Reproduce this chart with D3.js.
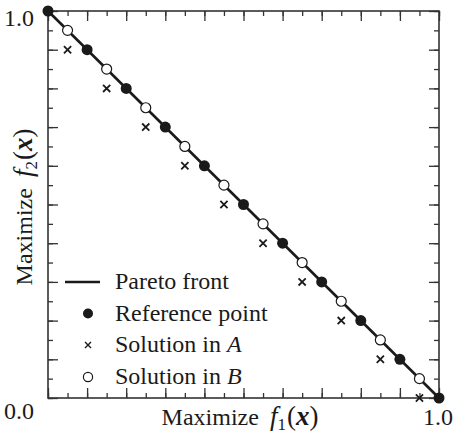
<!DOCTYPE html>
<html>
<head>
<meta charset="utf-8">
<script src="https://cdn.jsdelivr.net/npm/d3@7"></script>
<style>
  html, body { margin: 0; padding: 0; background: #fff; }
  svg { display: block; font-family: "Liberation Serif", "DejaVu Serif", serif; }
</style>
</head>
<body>
<svg id="chart" width="454" height="434"></svg>
<script>
// pareto front end points
const paretoF1 = [0, 1];
const paretoF2 = [1, 0];

// reference points (filled)
const refF1 = [0.0, 0.1, 0.2, 0.3, 0.4, 0.5, 0.6, 0.7, 0.8, 0.9, 1.0];
const refF2 = [1.0, 0.9, 0.8, 0.7, 0.6, 0.5, 0.4, 0.3, 0.2, 0.1, 0.0];

// solution set A (crosses)
const solAF1 = [0.05, 0.15, 0.25, 0.35, 0.45, 0.55, 0.65, 0.75, 0.85, 0.95];
const solAF2 = [0.90, 0.80, 0.70, 0.60, 0.50, 0.40, 0.30, 0.20, 0.10, 0.00];

// solution set B (open circles)
const solBF1 = [0.05, 0.15, 0.25, 0.35, 0.45, 0.55, 0.65, 0.75, 0.85, 0.95];
const solBF2 = [0.95, 0.85, 0.75, 0.65, 0.55, 0.45, 0.35, 0.25, 0.15, 0.05];

const legendLabels = ['Pareto front', 'Reference point', 'Solution in ', 'Solution in '];
const legendSets = [null, null, 'A', 'B'];

const MARGIN = { left: 48, right: 15, top: 11, bottom: 36 };
const WIDTH = 454, HEIGHT = 434;
const INK = '#1a1a1a';
const AXIS = '#333';

const svg = d3.select('#chart');
const x = d3.scaleLinear().domain([0, 1]).range([MARGIN.left, WIDTH - MARGIN.right]);
const y = d3.scaleLinear().domain([0, 1]).range([HEIGHT - MARGIN.bottom, MARGIN.top]);

const minorTicks = d3.range(0, 21).map(i => i * 0.05);
const majorTicks = d3.range(0, 11).map(i => i * 0.1);

// inward ticks on all four sides of the frame
function tickSet (values, len) {
  const sides = [
    [d3.axisBottom, x, `translate(0,${y(0)})`],
    [d3.axisTop, x, `translate(0,${y(1)})`],
    [d3.axisLeft, y, `translate(${x(0)},0)`],
    [d3.axisRight, y, `translate(${x(1)},0)`]
  ];
  sides.forEach(([fn, scale, tr]) => {
    svg.append('g')
      .attr('transform', tr)
      .call(fn(scale).tickValues(values).tickSize(-len).tickFormat(''))
      .call(g => g.select('.domain').remove())
      .selectAll('line').attr('stroke', AXIS).attr('stroke-width', 1.3);
  });
}
tickSet(minorTicks, 5);
tickSet(majorTicks, 10);

svg.append('rect')
  .attr('x', x(0)).attr('y', y(1))
  .attr('width', x(1) - x(0)).attr('height', y(0) - y(1))
  .attr('fill', 'none').attr('stroke', AXIS).attr('stroke-width', 1.6);

// tick labels only at the corners
svg.append('text').attr('x', 4).attr('y', 26).attr('font-size', 24).attr('fill', INK).text('1.0');
svg.append('text').attr('x', 4).attr('y', 419).attr('font-size', 24).attr('fill', INK).text('0.0');
svg.append('text').attr('x', 423).attr('y', 425).attr('font-size', 24).attr('fill', INK).text('1.0');

function title (sel, sub) {
  sel.append('tspan').text('Maximize');
  sel.append('tspan').attr('dx', 11).attr('font-size', 27).attr('font-style', 'italic').text('f');
  sel.append('tspan').attr('font-size', 17).attr('dy', 5).text(sub);
  sel.append('tspan').attr('dy', -5).attr('dx', 1).attr('font-size', 27).text('(');
  sel.append('tspan').attr('font-size', 27).attr('font-style', 'italic').attr('font-weight', 'bold').text('x');
  sel.append('tspan').attr('font-size', 27).text(')');
}

// axis titles
title(svg.append('text')
  .attr('x', 240).attr('y', 425).attr('text-anchor', 'middle')
  .attr('font-size', 24).attr('fill', INK), '1');

title(svg.append('text')
  .attr('transform', 'translate(32,207) rotate(-90)').attr('text-anchor', 'middle')
  .attr('font-size', 24).attr('fill', INK), '2');

// pareto front
const line = d3.line().x(d => x(d[0])).y(d => y(d[1]));
svg.append('path')
  .datum(d3.zip(paretoF1, paretoF2))
  .attr('d', line)
  .attr('fill', 'none').attr('stroke', INK).attr('stroke-width', 2.6);

function cross (sel, cx, cy, h, w) {
  sel.append('path')
    .attr('d', `M${cx - h},${cy - h}L${cx + h},${cy + h}M${cx - h},${cy + h}L${cx + h},${cy - h}`)
    .attr('stroke', INK).attr('stroke-width', w).attr('fill', 'none');
}

// solution A
const gA = svg.append('g');
d3.zip(solAF1, solAF2).forEach(([a, b]) => cross(gA, x(a), y(b), 3.6, 1.8));

// reference points
svg.append('g').selectAll('circle')
  .data(d3.zip(refF1, refF2))
  .join('circle')
  .attr('cx', d => x(d[0])).attr('cy', d => y(d[1]))
  .attr('r', 5.5).attr('fill', INK);

// solution B
svg.append('g').selectAll('circle')
  .data(d3.zip(solBF1, solBF2))
  .join('circle')
  .attr('cx', d => x(d[0])).attr('cy', d => y(d[1]))
  .attr('r', 5).attr('fill', '#fff').attr('stroke', INK).attr('stroke-width', 1.2);

// legend
const legend = svg.append('g');
const rowY = [282, 313.5, 345, 377];
legendLabels.forEach((label, i) => {
  const cy = rowY[i];
  if (i === 0) {
    legend.append('line').attr('x1', 65).attr('x2', 100).attr('y1', cy).attr('y2', cy)
      .attr('stroke', INK).attr('stroke-width', 2.6);
  } else if (i === 1) {
    legend.append('circle').attr('cx', 88).attr('cy', cy).attr('r', 5).attr('fill', INK);
  } else if (i === 2) {
    cross(legend, 88, cy, 3, 1.4);
  } else {
    legend.append('circle').attr('cx', 88).attr('cy', cy).attr('r', 4.6)
      .attr('fill', '#fff').attr('stroke', INK).attr('stroke-width', 1.2);
  }
  const t = legend.append('text').attr('x', 115).attr('y', cy + 7)
    .attr('font-size', 24).attr('fill', INK).text(label);
  if (legendSets[i]) t.append('tspan').attr('font-style', 'italic').text(legendSets[i]);
});
</script>
</body>
</html>
